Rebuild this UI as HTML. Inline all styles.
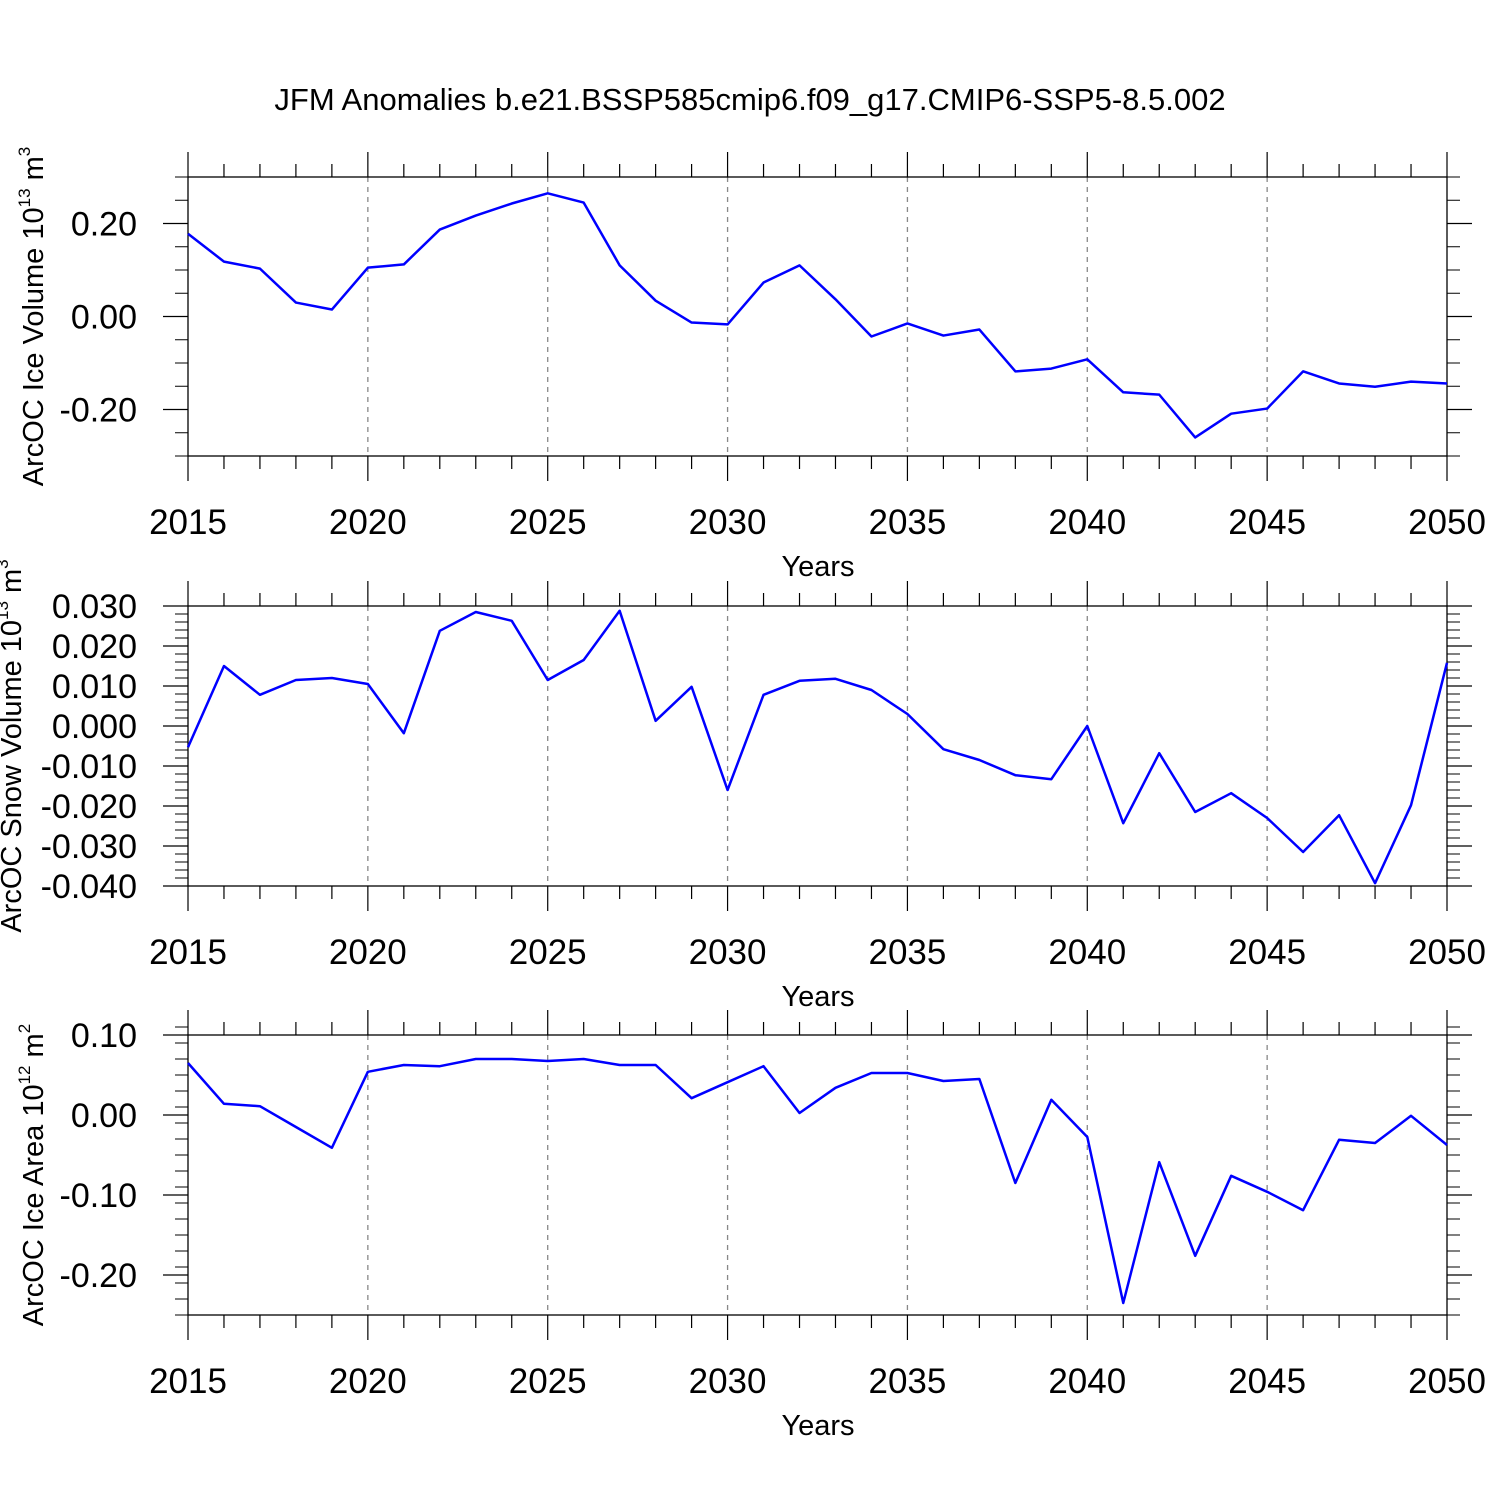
<!DOCTYPE html>
<html><head><meta charset="utf-8"><style>
html,body{margin:0;padding:0;background:#fff;}
svg{display:block;font-family:"Liberation Sans",sans-serif;}
</style></head><body>
<svg id="chart" width="1500" height="1500" viewBox="0 0 1500 1500">
<text x="750" y="110" font-size="31" text-anchor="middle">JFM Anomalies b.e21.BSSP585cmip6.f09_g17.CMIP6-SSP5-8.5.002</text>
</svg>
<script>
const years = [];
for (let y = 2015; y <= 2050; y++) years.push(y);
const iceVolume = [0.178,0.118,0.103,0.030,0.015,0.105,0.112,0.187,0.217,0.243,0.265,0.245,0.110,0.034,-0.013,-0.017,0.073,0.110,0.037,-0.043,-0.015,-0.041,-0.028,-0.118,-0.112,-0.092,-0.163,-0.168,-0.260,-0.209,-0.198,-0.118,-0.144,-0.151,-0.140,-0.144];
const snowVolume = [-0.0053,0.015,0.0078,0.0115,0.012,0.0105,-0.0018,0.0238,0.0285,0.0263,0.0115,0.0165,0.0288,0.0013,0.0098,-0.016,0.0078,0.0113,0.0118,0.009,0.003,-0.0058,-0.0085,-0.0123,-0.0133,0.0,-0.0243,-0.0068,-0.0215,-0.0168,-0.023,-0.0315,-0.0223,-0.0393,-0.0198,0.0158];
const iceArea = [0.065,0.014,0.011,-0.015,-0.041,0.054,0.0625,0.061,0.070,0.070,0.0675,0.070,0.0625,0.0625,0.021,0.041,0.061,0.0025,0.034,0.0525,0.0525,0.0425,0.045,-0.085,0.019,-0.0275,-0.235,-0.059,-0.176,-0.076,-0.096,-0.119,-0.031,-0.035,-0.001,-0.0375];
const xTickLabels = ["2015","2020","2025","2030","2035","2040","2045","2050"];
const iceVolTicks = ["-0.20","0.00","0.20"];
const snowTicks = ["-0.040","-0.030","-0.020","-0.010","0.000","0.010","0.020","0.030"];
const areaTicks = ["-0.20","-0.10","0.00","0.10"];

const NS = "http://www.w3.org/2000/svg";
const svg = document.getElementById("chart");
function el(tag, attrs, parent){const e=document.createElementNS(NS,tag);for(const k in attrs)e.setAttribute(k,attrs[k]);(parent||svg).appendChild(e);return e;}

const X0=188, X1=1447;
const xs = y => X0 + (y-2015)/(2050-2015)*(X1-X0);

function panel(name, top, bottom, ymin, ymax, minorStep, ticks, data, titleMain, titleExp, titleUnitExp, titleX){
  const g = el("g",{});
  
  
  const ys = v => bottom - (v-ymin)/(ymax-ymin)*(bottom-top);
  for(let y=2020;y<=2045;y+=5){
    const l=el("line",{x1:xs(y),x2:xs(y),y1:top,y2:bottom,stroke:"#888","stroke-width":1.3,"stroke-dasharray":"5,5"},g);
    
    
  }
  const fr=el("rect",{x:X0,y:top,width:X1-X0,height:bottom-top,fill:"none",stroke:"#000","stroke-width":1.3},g);
  
  
  for(let y=2015;y<=2050;y++){
    const major=(y%5===0), len=major?25:13;
    el("line",{x1:xs(y),x2:xs(y),y1:top,y2:top-len,stroke:"#000","stroke-width":1.2},g);
    el("line",{x1:xs(y),x2:xs(y),y1:bottom,y2:bottom+len,stroke:"#000","stroke-width":1.2},g);
  }
  xTickLabels.forEach(s=>{
    const t=el("text",{x:xs(+s),y:bottom+78,"font-size":35,"text-anchor":"middle"},g);
    t.textContent=s;
    
    
  });
  const xt=el("text",{x:818,y:bottom+120,"font-size":29,"text-anchor":"middle"},g);
  xt.textContent="Years";
  
  
  const n=Math.round((ymax-ymin)/minorStep);
  for(let i=0;i<=n;i++){
    const v=ymin+i*minorStep, y=ys(v);
    el("line",{x1:X0,x2:X0-13,y1:y,y2:y,stroke:"#000","stroke-width":1},g);
    el("line",{x1:X1,x2:X1+13,y1:y,y2:y,stroke:"#000","stroke-width":1},g);
  }
  ticks.forEach(s=>{
    const y=ys(parseFloat(s));
    el("line",{x1:X0,x2:X0-25,y1:y,y2:y,stroke:"#000","stroke-width":1.2},g);
    el("line",{x1:X1,x2:X1+25,y1:y,y2:y,stroke:"#000","stroke-width":1.2},g);
    const t=el("text",{x:X0-51,y:y+12,"font-size":34,"text-anchor":"end"},g);
    t.textContent=s;
    
    
  });
  const cy=(top+bottom)/2;
  const yt=el("text",{x:0,y:0,"font-size":29,"text-anchor":"middle",transform:`translate(${titleX},${cy}) rotate(-90)`},g);
  
  
  const a=el("tspan",{},yt); a.textContent=titleMain+" 10";
  const b=el("tspan",{dy:-13,"font-size":17},yt); b.textContent=titleExp;
  const c=el("tspan",{dy:13},yt); c.textContent=" m";
  const d=el("tspan",{dy:-13,"font-size":17},yt); d.textContent=titleUnitExp;
  const pts=data.map((v,i)=>xs(years[i])+","+ys(v)).join(" ");
  const pl=el("polyline",{points:pts,fill:"none",stroke:"#0000ff","stroke-width":2.5,"stroke-linejoin":"round"},g);
  
  
}
panel("ice-volume",177,456,-0.3,0.3,0.05,iceVolTicks,iceVolume,"ArcOC Ice Volume","13","3",43);
panel("snow-volume",606,886,-0.04,0.03,0.002,snowTicks,snowVolume,"ArcOC Snow Volume","13","3",21);
panel("ice-area",1035,1315,-0.25,0.1,0.02,areaTicks,iceArea,"ArcOC Ice Area","12","2",43);
</script>
</body></html>
